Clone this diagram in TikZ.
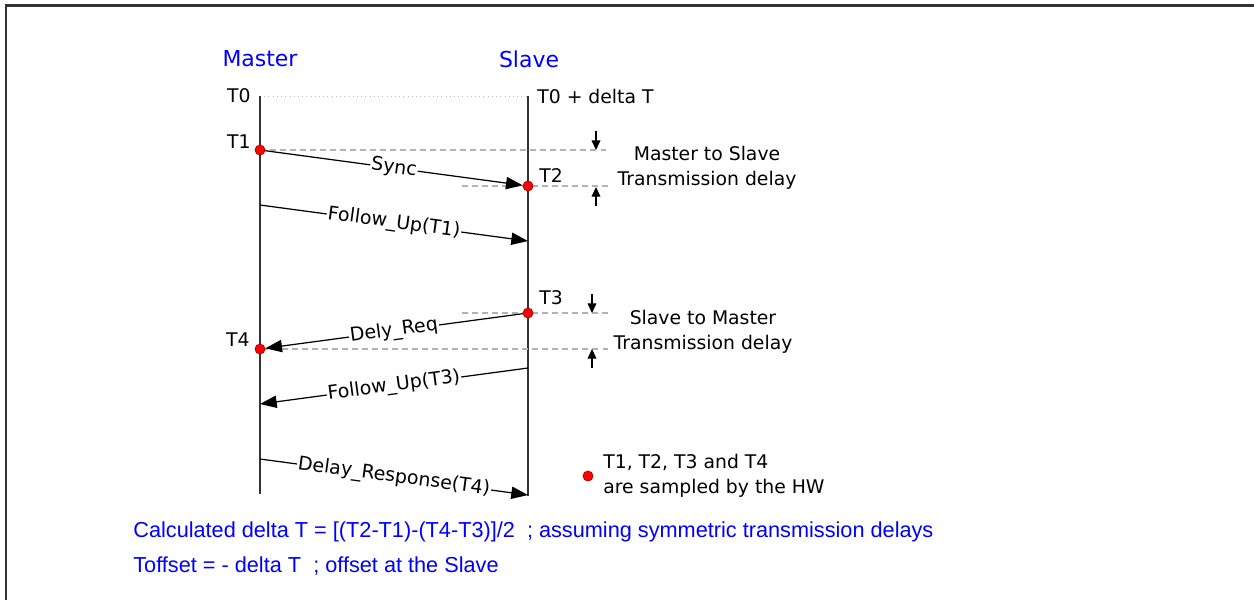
\documentclass[tikz,border=0pt]{standalone}
\usepackage{fontspec}
\setmainfont{DejaVu Sans}
\newfontfamily\notefont{Liberation Sans}
\usetikzlibrary{arrows.meta,positioning}

\begin{document}
\begin{tikzpicture}[x=0.02cm,y=-0.02cm,
    lifeline/.style={draw=black!80, line width=0.7pt},
    msg/.style={line width=0.7pt, -{Triangle[length=9.5pt,width=7pt]}},
    msglabel/.style={sloped, fill=white, inner sep=0.6pt, font=\fontsize{10.8}{12}\selectfont},
    stamp/.style={circle, fill=red, draw=red!60!black, line width=0.3pt, inner sep=0pt, minimum size=5.8pt},
    guide/.style={draw=black!30, dash pattern=on 3.4pt off 2.3pt, line width=0.8pt},
    delay/.style={line width=0.7pt, -{Triangle[length=5.5pt,width=5pt]}},
    lbl/.style={font=\fontsize{10.7}{14.2}\selectfont, inner sep=0pt},
    head/.style={text=blue, font=\fontsize{12.5}{14}\selectfont},
    note/.style={text=blue, font=\notefont\fontsize{12.35}{14}\selectfont, anchor=west, inner sep=0pt}]
    \useasboundingbox (0,0) rectangle (1254,600);
    \draw[black!80, line width=1.7pt] (6,600) -- (6,5) -- (1254,5);
    % lifelines
    \coordinate (M0) at (260,96);
    \coordinate (S0) at (528,96);
    \coordinate (Mend) at (260,494);
    \coordinate (Send) at (528,496);
    \node[head] (master) at (260,59) {Master};
    \node[head] (slave) at (529,59) {Slave};
    \draw[black!25, line width=0.4pt, dotted] (M0) -- (S0);
    \draw[lifeline] (M0) -- (Mend);
    \draw[lifeline] (S0) -- (Send);
    % guide lines for the delays
    \draw[guide] (260,150) -- (610,150);
    \draw[guide] (462,186) -- (610,186);
    \draw[guide] (462,313) -- (610,313);
    \draw[guide] (262,349) -- (610,349);
    \draw[delay] (596,131) -- (596,150);
    \draw[delay] (596,206) -- (596,187);
    \draw[delay] (592,294) -- (592,313);
    \draw[delay] (592,368) -- (592,349);
    % time stamps
    \node[stamp] (T1) at (260,150) {};
    \node[stamp] (T2) at (528,186) {};
    \node[stamp] (T3) at (528,313) {};
    \node[stamp] (T4) at (260,349) {};
    \node[lbl, anchor=east] at (251,96) {T0};
    \node[lbl, anchor=west] at (537,96) {T0 + delta T};
    \node[lbl, anchor=east] at (251,142) {T1};
    \node[lbl, anchor=west] at (539,176) {T2};
    \node[lbl, anchor=west] at (539,298) {T3};
    \node[lbl, anchor=east] at (250,340) {T4};
    \node[lbl, align=center] at (707,168) {Master to Slave\\Transmission delay};
    \node[lbl, align=center] at (703,332) {Slave to Master\\Transmission delay};
    % messages
    \coordinate (fu1a) at (260,205);
    \coordinate (fu1b) at (528,241);
    \coordinate (fu3a) at (528,368);
    \coordinate (fu3b) at (260,404);
    \coordinate (dra) at (260,459);
    \coordinate (drb) at (528,495);
    \draw[msg] (T1) -- node[msglabel] {Sync} (T2);
    \draw[msg] (fu1a) -- node[msglabel] {Follow\_Up(T1)} (fu1b);
    \draw[msg] (T3) -- node[msglabel] {Dely\_Req} (T4);
    \draw[msg] (fu3a) -- node[msglabel] {Follow\_Up(T3)} (fu3b);
    \draw[msg] (dra) -- node[msglabel] {Delay\_Response(T4)} (drb);
    % legend and notes
    \node[stamp] (key) at (588,476) {};
    \node[lbl, anchor=west, align=left] at (603,476) {T1, T2, T3 and T4\\are sampled by the HW};
    \node[note] at (133,532) {Calculated delta T = [(T2-T1)-(T4-T3)]/2\ \ ; assuming symmetric transmission delays};
    \node[note] at (133,566) {Toffset = - delta T\ \ ; offset at the Slave};
\end{tikzpicture}
\end{document}
